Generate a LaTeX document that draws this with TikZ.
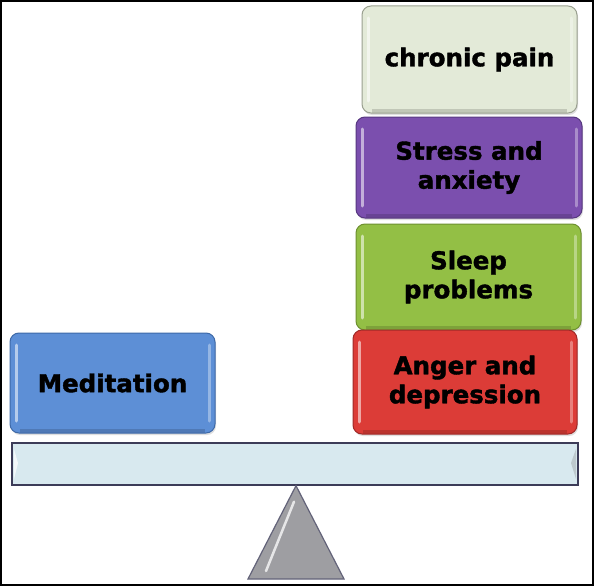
\documentclass[tikz,border=0pt]{standalone}
\usepackage{fontspec}
\setmainfont{DejaVu Sans}[BoldFeatures={FakeBold=1.6}]
\usetikzlibrary{shadows}
\definecolor{cpfill}{HTML}{E3EAD8}
\definecolor{cpdraw}{HTML}{9AA090}
\definecolor{safill}{HTML}{7B4FAE}
\definecolor{sadraw}{HTML}{573880}
\definecolor{spfill}{HTML}{93BF45}
\definecolor{spdraw}{HTML}{6E9030}
\definecolor{adfill}{HTML}{DC3C37}
\definecolor{addraw}{HTML}{A02A28}
\definecolor{mdfill}{HTML}{5D8FD6}
\definecolor{mddraw}{HTML}{3E6AA8}
\definecolor{beamfill}{HTML}{D8E9EF}
\definecolor{beamdraw}{HTML}{3C3C58}
\definecolor{trifill}{HTML}{9E9EA2}
\tikzset{
  block/.style={rounded corners=9pt, line width=1pt, inner sep=0pt,
    align=center, font=\fontsize{24.5}{29}\selectfont\bfseries, text=black,
    drop shadow={shadow xshift=1pt, shadow yshift=-2pt, opacity=.25},
    path picture={
      \draw[white, opacity=.55, line width=3pt, line cap=round]
        ([xshift=6pt,yshift=-12pt]path picture bounding box.north west) --
        ([xshift=6pt,yshift=12pt]path picture bounding box.south west);
      \draw[white, opacity=.35, line width=3pt, line cap=round]
        ([xshift=-6pt,yshift=-12pt]path picture bounding box.north east) --
        ([xshift=-6pt,yshift=12pt]path picture bounding box.south east);
      \draw[black, opacity=.15, line width=4pt]
        ([xshift=10pt,yshift=2pt]path picture bounding box.south west) --
        ([xshift=-10pt,yshift=2pt]path picture bounding box.south east);
    }},
  cpbox/.style={block, fill=cpfill, draw=cpdraw},
  sabox/.style={block, fill=safill, draw=sadraw},
  spbox/.style={block, fill=spfill, draw=spdraw},
  adbox/.style={block, fill=adfill, draw=addraw},
  mdbox/.style={block, fill=mdfill, draw=mddraw},
  beam/.style={fill=beamfill, draw=beamdraw, line width=1.4pt, inner sep=0pt,
    path picture={
      \fill[white, opacity=.7]
        ([xshift=2pt,yshift=-6pt]path picture bounding box.north west) --
        ([xshift=6pt,yshift=-20pt]path picture bounding box.north west) --
        ([xshift=2pt,yshift=6pt]path picture bounding box.south west) -- cycle;
      \fill[gray, opacity=.3]
        ([xshift=-2pt,yshift=-6pt]path picture bounding box.north east) --
        ([xshift=-7pt,yshift=-20pt]path picture bounding box.north east) --
        ([xshift=-2pt,yshift=6pt]path picture bounding box.south east) -- cycle;
    }},
  fulcrum/.style={fill=trifill, draw=beamdraw!80, line width=1.2pt, line join=miter},
  frame/.style={draw=black, line width=2pt}
}
\begin{document}
\begin{tikzpicture}[x=1pt,y=-1pt]
\useasboundingbox (0,0) rectangle (594,586);
\fill[white] (0,0) rectangle (594,586);
\draw[frame] (1,1) rectangle (593,585);

\node[cpbox, minimum width=215pt, minimum height=107pt] (cp) at (469.5,59.5) {chronic pain};
\node[sabox, minimum width=226pt, minimum height=101pt] (sa) at (469,167.5) {Stress and\\anxiety};
\node[spbox, minimum width=225pt, minimum height=106pt] (sp) at (468.5,277) {Sleep\\problems};
\node[adbox, minimum width=224pt, minimum height=104pt] (ad) at (465,382) {Anger and\\depression};
\node[mdbox, minimum width=205pt, minimum height=100pt] (md) at (112.5,383) {Meditation};

\node[beam, minimum width=566pt, minimum height=42pt] (bm) at (295,464) {};

\coordinate (apex) at ([xshift=1pt]bm.south);
\coordinate (bl) at (248,579);
\coordinate (br) at (344,579);
\draw[fulcrum] (apex) -- (br) -- (bl) -- cycle;
\draw[white, opacity=.75, line width=2.5pt, line cap=round]
  ([xshift=-2pt,yshift=-16pt]apex) -- ([xshift=18pt,yshift=8pt]bl);
\end{tikzpicture}
\end{document}
